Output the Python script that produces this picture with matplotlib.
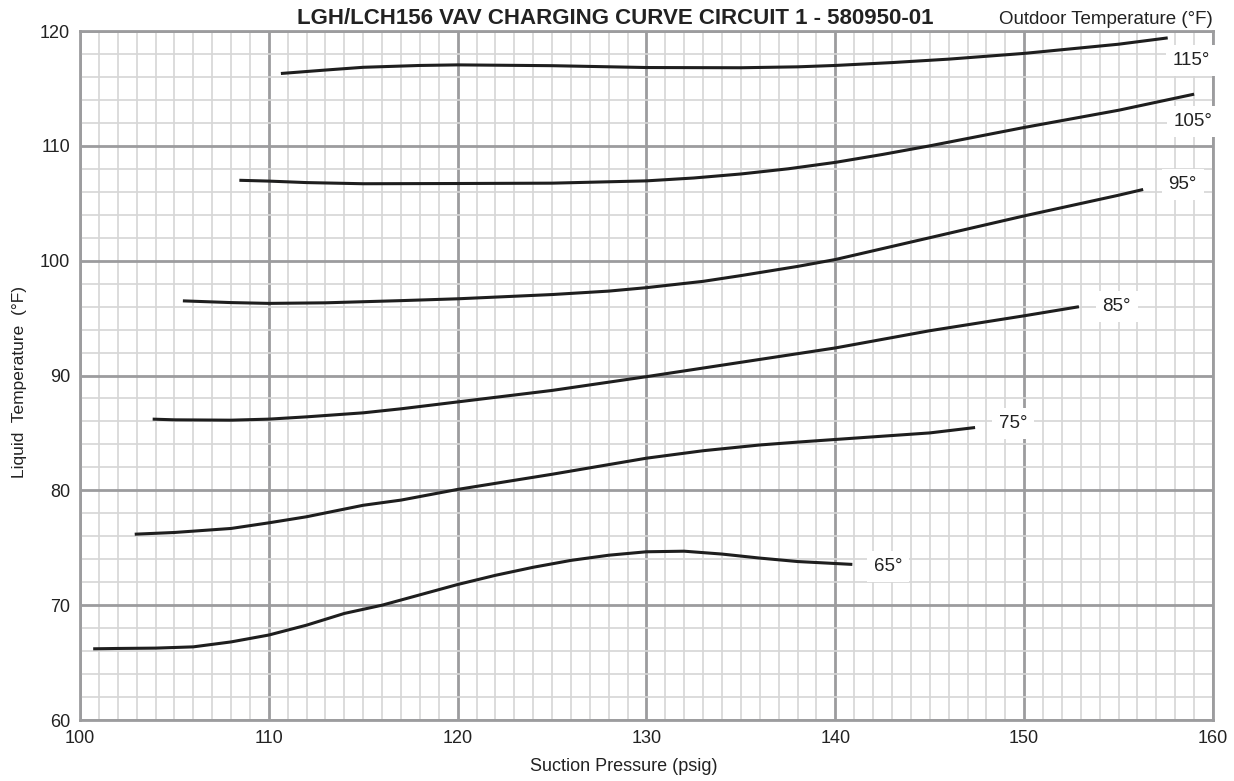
import matplotlib.pyplot as plt
from matplotlib.ticker import MultipleLocator

plt.rcParams["font.family"] = ["Liberation Sans", "DejaVu Sans"]

# outdoor temperature curves: suction pressure (psig) -> liquid temperature (F)
p65 = [100.7, 102, 104, 106, 108, 110, 112, 114, 116, 118, 120, 122, 124, 126, 128, 130, 132, 134, 136, 138, 140.9]
t65 = [66.2, 66.23, 66.26, 66.37, 66.8, 67.4, 68.26, 69.28, 70.0, 70.9, 71.8, 72.6, 73.3, 73.9, 74.35, 74.65, 74.7, 74.45, 74.1, 73.8, 73.55]

p75 = [102.9, 105, 108, 110, 112, 115, 117, 120, 125, 130, 133, 136, 138, 140, 145, 147.4]
t75 = [76.18, 76.33, 76.68, 77.17, 77.7, 78.7, 79.15, 80.08, 81.4, 82.8, 83.45, 83.95, 84.2, 84.43, 85.0, 85.47]

p85 = [103.85, 105, 108, 110, 112, 115, 117, 120, 125, 130, 135, 140, 145, 150, 152.9]
t85 = [86.2, 86.14, 86.11, 86.2, 86.4, 86.75, 87.1, 87.7, 88.7, 89.9, 91.15, 92.4, 93.9, 95.2, 95.99]

p95 = [105.45, 108, 110, 113, 117, 120, 125, 128, 130, 133, 135, 138, 140, 145, 150, 155, 156.3]
t95 = [96.5, 96.35, 96.28, 96.33, 96.52, 96.68, 97.05, 97.35, 97.65, 98.2, 98.7, 99.5, 100.1, 102.0, 103.9, 105.7, 106.2]

p105 = [108.44, 110, 112, 115, 120, 125, 130, 132.5, 135, 137.5, 140, 142.5, 145, 150, 155, 159.0]
t105 = [107.0, 106.93, 106.8, 106.7, 106.72, 106.75, 106.95, 107.2, 107.55, 108.0, 108.56, 109.25, 110.0, 111.6, 113.1, 114.5]

p115 = [110.64, 113, 115, 118, 120, 125, 130, 135, 138, 140, 143, 146, 150, 155, 157.6]
t115 = [116.3, 116.6, 116.84, 117.0, 117.05, 116.98, 116.82, 116.8, 116.88, 117.0, 117.25, 117.55, 118.05, 118.85, 119.4]

curves = [(p65, t65), (p75, t75), (p85, t85), (p95, t95), (p105, t105), (p115, t115)]
labels = ["65°", "75°", "85°", "95°", "105°", "115°"]
label_x = [142.8, 149.4, 154.9, 158.4, 158.95, 158.85]
label_y = [73.4, 85.8, 96.0, 106.6, 112.1, 117.4]

fig = plt.figure(figsize=(12.34, 7.81), dpi=100)
ax = fig.add_axes([0.0648, 0.0781, 0.9182, 0.8822])

ax.set_xlim(100, 160)
ax.set_ylim(60, 120)
ax.xaxis.set_major_locator(MultipleLocator(10))
ax.xaxis.set_minor_locator(MultipleLocator(1))
ax.yaxis.set_major_locator(MultipleLocator(10))
ax.yaxis.set_minor_locator(MultipleLocator(2))
ax.grid(which="minor", color="#d6d6d6", lw=1.2, zorder=0)
ax.grid(which="major", color="#9c9c9e", lw=2.0, zorder=1)
ax.set_axisbelow(True)
ax.tick_params(which="both", length=0, labelsize=13, colors="#222222", pad=7)
for s in ax.spines.values():
    s.set_color("#9c9c9e")
    s.set_linewidth(2.0)

for (p, t) in curves:
    ax.plot(p, t, color="#1e1e1e", lw=2.2, solid_capstyle="butt", zorder=3)

for lab, lx, ly in zip(labels, label_x, label_y):
    ax.text(lx, ly, lab, ha="center", va="center", fontsize=13.5, color="#222222",
            bbox=dict(facecolor="white", edgecolor="none", pad=5),
            zorder=5, clip_on=False)

ax.set_xlabel("Suction Pressure (psig)", fontsize=13, color="#222222")
ax.xaxis.set_label_coords((624 - 80) / (1213 - 80), -0.055)
ax.set_ylabel("Liquid  Temperature  (°F)", fontsize=12.5, color="#222222")
ax.yaxis.set_label_coords(-(80 - 27) / (1213 - 80), 0.49)

fig.text(615 / 1234, 1 - 18 / 781, "LGH/LCH156 VAV CHARGING CURVE CIRCUIT 1 - 580950-01",
         ha="center", va="center", fontsize=16, fontweight="bold", color="#222222")
fig.text(1213 / 1234, 1 - 20 / 781, "Outdoor Temperature (°F)",
         ha="right", va="center", fontsize=13.5, color="#222222")

fig.savefig("out.png", dpi=100)
